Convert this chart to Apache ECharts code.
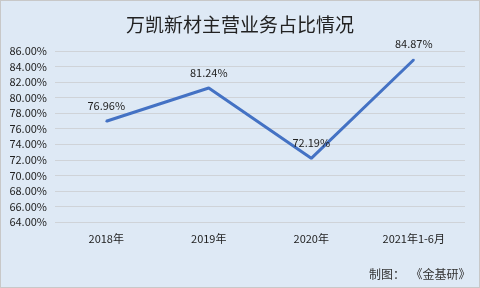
<!DOCTYPE html>
<html><head><meta charset="utf-8">
<script src="https://cdn.jsdelivr.net/npm/echarts@6/dist/echarts.min.js"></script>
<style>html,body{margin:0;padding:0;background:#fff}#c{width:480px;height:288px;box-sizing:border-box;border:1px solid #c8c8c8;background:#dee9f5}</style>
</head><body><div id="c"></div>
<script>
var categories = ['2018年', '2019年', '2020年', '2021年1-6月'];
var values = [76.96, 81.24, 72.19, 84.87];
var yTicks = [64, 66, 68, 70, 72, 74, 76, 78, 80, 82, 84, 86];
var titleText = '万凯新材主营业务占比情况';
var sourceText = '制图：  《金基研》';

var chart = echarts.init(document.getElementById('c'), null, {renderer: 'canvas'});
var font = '"Noto Sans CJK SC", "Noto Sans", sans-serif';
chart.setOption({
  backgroundColor: '#dee9f5',
  animation: false,
  title: {text: titleText, left: 'center', top: 9,
    textStyle: {fontFamily: font, fontSize: 19, fontWeight: 'normal', color: '#222'}},
  graphic: [{type: 'text', left: 368, top: 267,
    style: {text: sourceText, font: '12px ' + font, fill: '#333'}}],
  grid: {left: 54, right: 14, top: 50, bottom: 65},
  xAxis: {type: 'category', data: categories, boundaryGap: true,
    axisLine: {show: false}, axisTick: {show: false},
    axisLabel: {color: '#222', fontSize: 11, fontFamily: font, margin: 11}},
  yAxis: {type: 'value', min: yTicks[0], max: yTicks[yTicks.length - 1], interval: 2,
    axisLine: {show: false}, axisTick: {show: false},
    splitLine: {lineStyle: {color: '#cfd3d8', width: 1}},
    axisLabel: {color: '#222', fontSize: 11, fontFamily: font, margin: 8,
      formatter: function (v) { return v.toFixed(2) + '%'; }}},
  series: [{type: 'line', data: values, symbol: 'circle', symbolSize: 2, showSymbol: true,
    itemStyle: {color: '#4472c4'},
    lineStyle: {color: '#4472c4', width: 3},
    label: {show: true, position: 'top', distance: 9, color: '#222', fontSize: 11, fontFamily: font,
      formatter: function (p) { return p.value.toFixed(2) + '%'; }}}]
});
</script></body></html>
